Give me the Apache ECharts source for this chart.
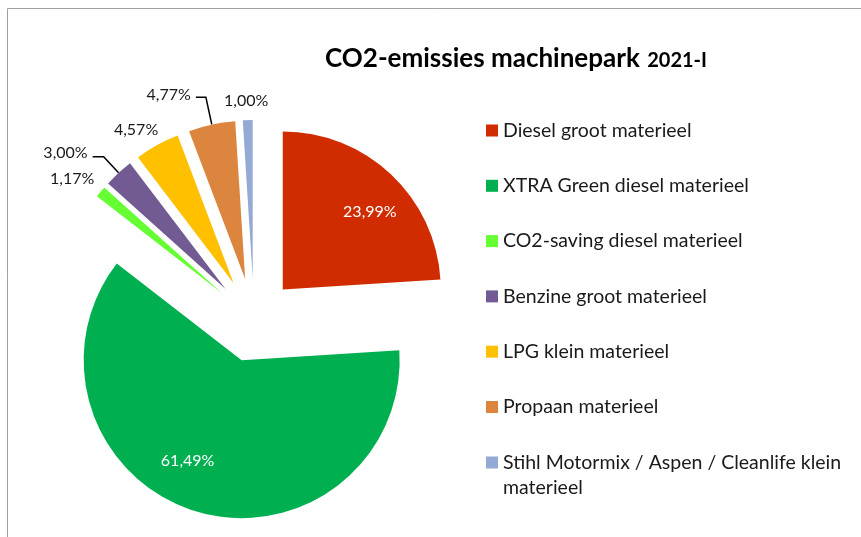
<!DOCTYPE html>
<html lang="nl">
<head>
	<meta charset="UTF-8">
	<title>CO2-emissies machinepark</title>
	<script src="https://cdn.jsdelivr.net/npm/echarts@6/dist/echarts.min.js"></script>
	<style>
		html, body { margin: 0; padding: 0; background: #fff; }
	</style>
</head>
<body>
	<div id="main" style="width: 861px;height:537px;"></div>
	<script type="text/javascript">

		// data
		var categories = [
			'Diesel groot materieel',
			'XTRA Green diesel materieel',
			'CO2-saving diesel materieel',
			'Benzine groot materieel',
			'LPG klein materieel',
			'Propaan materieel',
			'Stihl Motormix / Aspen / Cleanlife klein materieel'
		];
		var values = [23.99, 61.49, 1.17, 3.00, 4.57, 4.77, 1.00];
		var colors = ['#D02C00', '#00B050', '#66FF33', '#725A92', '#FFC000', '#DC853F', '#94A9D4'];

		// label nudges (like Excel's hand-placed data labels)
		var labelShift = [[31, -18], [-30, 22], [18, -5], [0, -4], [22, -5], [0, -2], [36, -7]];

		var myChart = echarts.init(document.getElementById('main'));

		var pieData = categories.map(function (name, i) {
			var item = {
				name: name,
				value: values[i],
				selected: true,
				itemStyle: { color: colors[i] }
			};
			if (i < 2) {
				item.label = { position: 'inside', color: '#fff' };
			} else if (i === 3) {
				item.labelLine = { show: true, length: 22, length2: 11 };
			} else if (i === 5) {
				item.labelLine = { show: true, length: 28, length2: 10 };
			} else {
				item.labelLine = { show: false, length: 12, length2: 10 };
			}
			return item;
		});

		var legendStyle = { fontFamily: 'Lato', fontSize: 19.5, color: '#1a1a1a', lineHeight: 25 };

		var option = {
			animation: false,
			textStyle: { fontFamily: 'Lato' },
			graphic: [{
				type: 'rect',
				z: -1,
				shape: { x: 7.5, y: 8.5, width: 1000, height: 1000 },
				style: { fill: 'none', stroke: '#a0a0a0', lineWidth: 1 }
			}],
			title: {
				left: 320,
				top: 37,
				text: '{a|CO2-emissies machinepark} {b|2021-I}',
				textStyle: {
					rich: {
						a: { fontFamily: 'Lato', fontSize: 26, fontWeight: 'bold', color: '#000', lineHeight: 34 },
						b: { fontFamily: 'Lato', fontSize: 20, fontWeight: 'bold', color: '#000', lineHeight: 34, padding: [4, 0, 0, 3] }
					}
				}
			},
			legend: [{
				orient: 'vertical',
				left: 481,
				top: 113,
				icon: 'rect',
				itemWidth: 12,
				itemHeight: 12,
				itemGap: 30.3,
				selectedMode: false,
				data: categories.slice(0, 6),
				textStyle: legendStyle
			}, {
				orient: 'vertical',
				left: 481,
				top: 420,
				icon: 'rect',
				itemWidth: 12,
				itemHeight: 12,
				selectedMode: false,
				data: categories.slice(6),
				formatter: function (name) {
					// empty first line keeps the icon level with the first text line
					return ' \n' + name.replace(/ materieel$/, '\nmaterieel');
				},
				textStyle: legendStyle
			}],
			series: [{
				type: 'pie',
				center: [254, 320],
				radius: 158,
				startAngle: 90,
				clockwise: true,
				selectedMode: 'multiple',
				selectedOffset: 42,
				emphasis: { disabled: true },
				avoidLabelOverlap: false,
				label: {
					show: true,
					position: 'outside',
					fontFamily: 'Lato',
					fontSize: 16,
					color: '#1a1a1a',
					formatter: function (p) {
						return p.value.toFixed(2).replace('.', ',') + '%';
					}
				},
				labelLine: {
					lineStyle: { color: '#000', width: 1.5 }
				},
				labelLayout: function (p) {
					var s = labelShift[p.dataIndex];
					if (!s || (s[0] === 0 && s[1] === 0)) return {};
					return { dx: s[0], dy: s[1] };
				},
				data: pieData
			}]
		};

		myChart.setOption(option);
	</script>
</body>
</html>
